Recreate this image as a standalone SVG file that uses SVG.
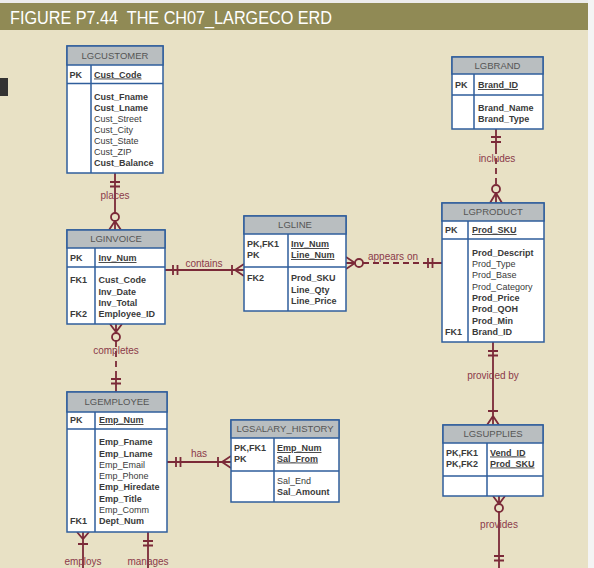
<svg xmlns="http://www.w3.org/2000/svg" width="594" height="568" viewBox="0 0 594 568">
<style>
.box{fill:#ffffff;stroke:#2f5e9c;stroke-width:1.5}
.hdr{fill:#b9bec0;stroke:#2f5e9c;stroke-width:1.5}
.div{stroke:#2f5e9c;stroke-width:1.5;fill:none}
.t{font-family:"Liberation Sans",Arial,sans-serif;font-size:9px;fill:#3a3a3a}
.b{font-weight:bold}
.u{text-decoration:underline}
.h{font-family:"Liberation Sans",Arial,sans-serif;font-size:9.5px;fill:#555;text-anchor:middle}
.ln{stroke:#7b2a38;stroke-width:1.8;fill:none}
.ds{stroke:#7b2a38;stroke-width:1.8;fill:none;stroke-dasharray:6,4}
.cir{stroke:#7b2a38;stroke-width:1.8;fill:#e8e1c5}
.lbl{font-family:"Liberation Sans",Arial,sans-serif;font-size:10px;fill:#8b3a4a;text-anchor:middle}
</style>
<rect x="0" y="0" width="594" height="568" fill="#e8e1c5"/>
<rect x="0" y="0" width="594" height="3" fill="#ececec"/>
<rect x="0" y="3" width="588" height="27" fill="#908a55"/>
<rect x="588" y="0" width="6" height="568" fill="#f4f4f4"/>
<text x="10" y="24" xml:space="preserve" font-family="'Liberation Sans',Arial,sans-serif" font-size="18" fill="#ffffff" textLength="322" lengthAdjust="spacingAndGlyphs">FIGURE P7.44  THE CH07_LARGECO ERD</text>
<rect x="0" y="78" width="8" height="18" fill="#333333"/>

<g id="connectors">
  <!-- places -->
  <path class="ln" d="M115,173 V230 M110,182 H120 M110,186.5 H120 M115,221 L109,230 M115,221 L121,230"/>
  <circle class="cir" cx="115" cy="217" r="4"/>
  <text class="lbl" x="115" y="199">places</text>
  <!-- includes -->
  <path class="ln" d="M496,129 V148 M491,137 H501 M491,142 H501 M496,185 V203 M496,193 L490,203 M496,193 L502,203"/>
  <path class="ds" d="M496,148 V185"/>
  <circle class="cir" cx="496" cy="189" r="4"/>
  <text class="lbl" x="497" y="162">includes</text>
  <!-- contains -->
  <path class="ln" d="M165,270 H244 M173,265 V275 M177.5,265 V275 M232,265 V275 M235,270 L244,264 M235,270 L244,276"/>
  <text class="lbl" x="204" y="267">contains</text>
  <!-- appears on -->
  <path class="ln" d="M346,263 H355 M355,263 L346,257 M355,263 L346,269 M425,263 H442 M428,258 V268 M432.5,258 V268"/>
  <path class="ds" d="M363,263 H425"/>
  <circle class="cir" cx="359" cy="263" r="4"/>
  <text class="lbl" x="393" y="260">appears on</text>
  <!-- completes -->
  <path class="ln" d="M116,324 V333 M110,324 L116,332 L122,324 M116,376 V392 M111,379 H121 M111,383.5 H121"/>
  <path class="ds" d="M116,341 V376"/>
  <circle class="cir" cx="116" cy="337" r="4"/>
  <text class="lbl" x="116" y="354">completes</text>
  <!-- has -->
  <path class="ln" d="M167,462 H231 M176,457 V467 M180.5,457 V467 M218,457 V467 M222,462 L231,456 M222,462 L231,468"/>
  <text class="lbl" x="199" y="457">has</text>
  <!-- provided by -->
  <path class="ln" d="M493,342 V425 M488,351 H498 M488,355.5 H498 M488,411 H498 M493,416 L487,425 M493,416 L499,425"/>
  <text class="lbl" x="493" y="379">provided by</text>
  <!-- provides -->
  <path class="ln" d="M499,496 V504 M493,496 L499,504 L505,496 M499,512 V568 M494,556 H504 M494,560.5 H504"/>
  <circle class="cir" cx="499" cy="508" r="4"/>
  <text class="lbl" x="499" y="528">provides</text>
  <!-- employs -->
  <path class="ln" d="M83,532 V568 M77,532 L83,539 L89,532 M78,544 H88"/>
  <text class="lbl" x="83" y="565">employs</text>
  <!-- manages -->
  <path class="ln" d="M148,532 V568 M143,541 H153 M143,545.5 H153"/>
  <text class="lbl" x="148" y="565">manages</text>
</g>

<g id="LGCUSTOMER">
  <rect class="box" x="67" y="46" width="96" height="127"/>
  <rect class="hdr" x="67" y="46" width="96" height="19"/>
  <path class="div" d="M67,83.5 H163 M91,65 V173"/>
  <text class="h" x="115" y="58.5">LGCUSTOMER</text>
  <text class="t b" x="69.5" y="77.5">PK</text>
  <text class="t b u" x="94" y="77.5">Cust_Code</text>
  <text class="t b" x="94" y="100">Cust_Fname</text>
  <text class="t b" x="94" y="111">Cust_Lname</text>
  <text class="t" x="94" y="122">Cust_Street</text>
  <text class="t" x="94" y="133">Cust_City</text>
  <text class="t" x="94" y="144">Cust_State</text>
  <text class="t" x="94" y="155">Cust_ZIP</text>
  <text class="t b" x="94" y="166">Cust_Balance</text>
</g>

<g id="LGBRAND">
  <rect class="box" x="452" y="57" width="91" height="72"/>
  <rect class="hdr" x="452" y="57" width="91" height="17"/>
  <path class="div" d="M452,95 H543 M474,74 V129"/>
  <text class="h" x="497.5" y="68.5">LGBRAND</text>
  <text class="t b" x="455" y="88">PK</text>
  <text class="t b u" x="478" y="88">Brand_ID</text>
  <text class="t b" x="478" y="111">Brand_Name</text>
  <text class="t b" x="478" y="122">Brand_Type</text>
</g>

<g id="LGINVOICE">
  <rect class="box" x="67" y="230" width="98" height="94"/>
  <rect class="hdr" x="67" y="230" width="98" height="18"/>
  <path class="div" d="M67,267 H165 M95,248 V324"/>
  <text class="h" x="116" y="242">LGINVOICE</text>
  <text class="t b" x="70" y="261">PK</text>
  <text class="t b u" x="98.5" y="261">Inv_Num</text>
  <text class="t b" x="70" y="283">FK1</text>
  <text class="t b" x="70" y="317">FK2</text>
  <text class="t b" x="98.5" y="283">Cust_Code</text>
  <text class="t b" x="98.5" y="294.5">Inv_Date</text>
  <text class="t b" x="98.5" y="306">Inv_Total</text>
  <text class="t b" x="98.5" y="317">Employee_ID</text>
</g>

<g id="LGLINE">
  <rect class="box" x="244" y="216" width="102" height="95"/>
  <rect class="hdr" x="244" y="216" width="102" height="18"/>
  <path class="div" d="M244,267 H346 M288,234 V311"/>
  <text class="h" x="295" y="227.5">LGLINE</text>
  <text class="t b" x="247" y="247">PK,FK1</text>
  <text class="t b" x="247" y="258">PK</text>
  <text class="t b u" x="291" y="247">Inv_Num</text>
  <text class="t b u" x="291" y="258">Line_Num</text>
  <text class="t b" x="247" y="281">FK2</text>
  <text class="t b" x="291" y="281">Prod_SKU</text>
  <text class="t b" x="291" y="292.5">Line_Qty</text>
  <text class="t b" x="291" y="304">Line_Price</text>
</g>

<g id="LGPRODUCT">
  <rect class="box" x="442" y="203" width="102" height="139"/>
  <rect class="hdr" x="442" y="203" width="102" height="18"/>
  <path class="div" d="M442,239 H544 M468,221 V342"/>
  <text class="h" x="493" y="214.5">LGPRODUCT</text>
  <text class="t b" x="445" y="233">PK</text>
  <text class="t b u" x="472" y="233">Prod_SKU</text>
  <text class="t b" x="472" y="255.5">Prod_Descript</text>
  <text class="t" x="472" y="267">Prod_Type</text>
  <text class="t" x="472" y="278">Prod_Base</text>
  <text class="t" x="472" y="289.5">Prod_Category</text>
  <text class="t b" x="472" y="301">Prod_Price</text>
  <text class="t b" x="472" y="312">Prod_QOH</text>
  <text class="t b" x="472" y="323.5">Prod_Min</text>
  <text class="t b" x="445" y="334.5">FK1</text>
  <text class="t b" x="472" y="334.5">Brand_ID</text>
</g>

<g id="LGEMPLOYEE">
  <rect class="box" x="67" y="392" width="100" height="140"/>
  <rect class="hdr" x="67" y="392" width="100" height="20"/>
  <path class="div" d="M67,429 H167 M95,412 V532"/>
  <text class="h" x="117" y="405">LGEMPLOYEE</text>
  <text class="t b" x="70" y="423">PK</text>
  <text class="t b u" x="99" y="423">Emp_Num</text>
  <text class="t b" x="99" y="445">Emp_Fname</text>
  <text class="t b" x="99" y="456.5">Emp_Lname</text>
  <text class="t" x="99" y="467.5">Emp_Email</text>
  <text class="t" x="99" y="478.5">Emp_Phone</text>
  <text class="t b" x="99" y="490">Emp_Hiredate</text>
  <text class="t b" x="99" y="501.5">Emp_Title</text>
  <text class="t" x="99" y="512.5">Emp_Comm</text>
  <text class="t b" x="70" y="524">FK1</text>
  <text class="t b" x="99" y="524">Dept_Num</text>
</g>

<g id="LGSALARY_HISTORY">
  <rect class="box" x="231" y="420" width="108" height="82"/>
  <rect class="hdr" x="231" y="420" width="108" height="18"/>
  <path class="div" d="M231,471 H339 M274,438 V502"/>
  <text class="h" x="285" y="431.5">LGSALARY_HISTORY</text>
  <text class="t b" x="234" y="451">PK,FK1</text>
  <text class="t b" x="234" y="461.5">PK</text>
  <text class="t b u" x="277" y="451">Emp_Num</text>
  <text class="t b u" x="277" y="461.5">Sal_From</text>
  <text class="t" x="277" y="484">Sal_End</text>
  <text class="t b" x="277" y="495">Sal_Amount</text>
</g>

<g id="LGSUPPLIES">
  <rect class="box" x="443" y="425" width="100" height="71"/>
  <rect class="hdr" x="443" y="425" width="100" height="18"/>
  <path class="div" d="M443,476 H543 M487,443 V496"/>
  <text class="h" x="493" y="437">LGSUPPLIES</text>
  <text class="t b" x="446" y="455.5">PK,FK1</text>
  <text class="t b" x="446" y="466.5">PK,FK2</text>
  <text class="t b u" x="490" y="455.5">Vend_ID</text>
  <text class="t b u" x="490" y="466.5">Prod_SKU</text>
</g>
</svg>
